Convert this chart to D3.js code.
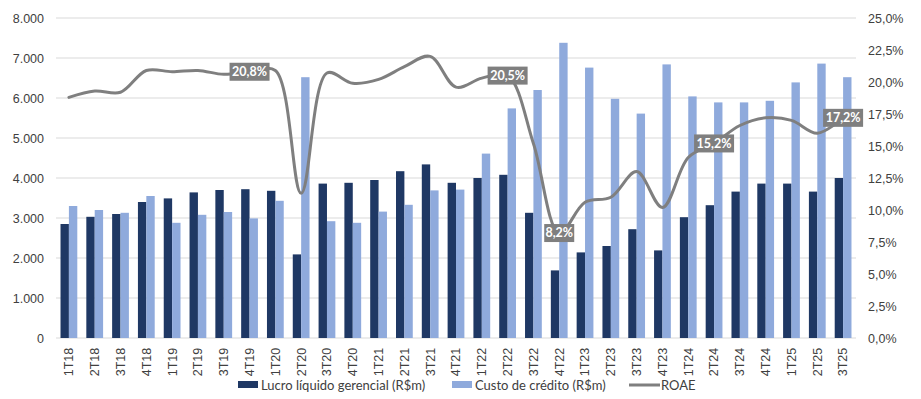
<!DOCTYPE html>
<html>
<head>
<meta charset="utf-8">
<script src="https://cdn.jsdelivr.net/npm/d3@7"></script>
<style>
  body { margin: 0; background: #fff; }
  svg { font-family: Lato, "Open Sans", sans-serif; }
</style>
</head>
<body>
<div id="chart"></div>
<script>
const quarters = ['1T18','2T18','3T18','4T18','1T19','2T19','3T19','4T19','1T20','2T20','3T20','4T20',
  '1T21','2T21','3T21','4T21','1T22','2T22','3T22','4T22','1T23','2T23','3T23','4T23',
  '1T24','2T24','3T24','4T24','1T25','2T25','3T25'];
const lucro = [2850,3030,3100,3400,3490,3640,3700,3720,3680,2090,3860,3880,
  3950,4170,4340,3880,4000,4080,3130,1690,2140,2300,2720,2190,
  3020,3320,3660,3860,3860,3660,4000];
const custo = [3300,3200,3130,3550,2880,3080,3150,2990,3430,6520,2920,2880,
  3160,3330,3690,3710,4610,5740,6200,7380,6760,5980,5610,6840,
  6040,5890,5890,5930,6390,6860,6520];
const roae = [18.8,19.3,19.2,20.9,20.8,20.9,20.6,20.8,20.9,11.3,20.7,19.9,
  20.2,21.2,22.0,19.6,20.3,20.5,15.2,8.2,10.6,11.0,13.0,10.2,
  14.1,15.2,16.6,17.2,17.0,16.0,17.2];
const labelled = ['4T19','2T22','4T22','2T24','3T25'];
const leftTicks = [0,1000,2000,3000,4000,5000,6000,7000,8000];
const rightTicks = [0,2.5,5,7.5,10,12.5,15,17.5,20,22.5,25];

const width = 921, height = 399;
const margin = {top: 18, right: 65, bottom: 61, left: 56};

const svg = d3.select('#chart').append('svg')
  .attr('width', width)
  .attr('height', height);

const x = d3.scaleBand().domain(quarters)
  .range([margin.left, width - margin.right]).paddingInner(0.35).paddingOuter(0.175);
const xs = d3.scaleBand().domain(['l','c']).range([0, x.bandwidth()]);
const y = d3.scaleLinear().domain([0, 8000]).range([height - margin.bottom, margin.top]);
const y2 = d3.scaleLinear().domain([0, 25]).range([height - margin.bottom, margin.top]);

const fmtL = d3.formatLocale({decimal: ',', thousands: '.', grouping: [3], currency: ['R$','']});
const fL = fmtL.format(',.0f');
const fR = d => fmtL.format('.1f')(d) + '%';

// grid
svg.append('g').selectAll('line').data(leftTicks.slice(1)).enter().append('line')
  .attr('x1', margin.left).attr('x2', width - margin.right)
  .attr('y1', d => y(d)).attr('y2', d => y(d))
  .attr('stroke', '#d9d9d9').attr('stroke-width', 1);

// axes
const gl = svg.append('g').attr('transform', `translate(${margin.left - 9},0)`)
  .call(d3.axisLeft(y).tickValues(leftTicks).tickFormat(fL).tickSize(0));
const gr = svg.append('g').attr('transform', `translate(${width - margin.right + 9},0)`)
  .call(d3.axisRight(y2).tickValues(rightTicks).tickFormat(fR).tickSize(0));
const gx = svg.append('g').attr('transform', `translate(0,${height - margin.bottom + 4})`)
  .call(d3.axisBottom(x).tickSize(0));
[gl, gr, gx].forEach(g => {
  g.select('.domain').remove();
  g.selectAll('text').attr('fill', '#404040').style('font-size', '12.5px');
});
gx.selectAll('text')
  .attr('transform', 'rotate(-90)')
  .attr('text-anchor', 'end')
  .attr('dx', '-0.3em').attr('dy', '0.35em')
  .attr('y', 0).attr('x', -2);

// baseline
svg.append('line')
  .attr('x1', margin.left).attr('x2', width - margin.right)
  .attr('y1', y(0)).attr('y2', y(0)).attr('stroke', '#d9d9d9');

// bars
const groups = svg.append('g').selectAll('g').data(quarters).enter().append('g')
  .attr('transform', d => `translate(${x(d)},0)`);
groups.append('rect')
  .attr('x', xs('l')).attr('width', xs.bandwidth())
  .attr('y', (d, i) => y(lucro[i])).attr('height', (d, i) => y(0) - y(lucro[i]))
  .attr('fill', '#1f3864');
groups.append('rect')
  .attr('x', xs('c')).attr('width', xs.bandwidth())
  .attr('y', (d, i) => y(custo[i])).attr('height', (d, i) => y(0) - y(custo[i]))
  .attr('fill', '#8faadc');

// line
const cx = d => x(d) + x.bandwidth() / 2;
const line = d3.line()
  .x((d, i) => cx(quarters[i]))
  .y(d => y2(d))
  .curve(d3.curveCatmullRom.alpha(0.5));
svg.append('path').datum(roae)
  .attr('d', line)
  .attr('fill', 'none')
  .attr('stroke', '#7f7f7f')
  .attr('stroke-width', 3)
  .attr('stroke-linecap', 'round');

// data labels
const lab = svg.append('g').selectAll('g').data(labelled).enter().append('g')
  .attr('transform', d => `translate(${cx(d)},${y2(roae[quarters.indexOf(d)])})`);
lab.append('rect')
  .attr('x', d => d === '4T22' ? -15 : -20).attr('y', -9)
  .attr('width', d => d === '4T22' ? 30 : 40).attr('height', 18)
  .attr('fill', '#7f7f7f');
lab.append('text')
  .attr('text-anchor', 'middle').attr('dy', '0.35em')
  .attr('fill', '#fff').style('font-weight', 'bold').style('font-size', '12.5px')
  .text(d => fR(roae[quarters.indexOf(d)]));

// legend
const leg = svg.append('g').attr('transform', 'translate(0,385)');
const items = [
  {name: 'Lucro líquido gerencial (R$m)', color: '#1f3864', type: 'rect', x: 238},
  {name: 'Custo de crédito (R$m)', color: '#8faadc', type: 'rect', x: 452},
  {name: 'ROAE', color: '#7f7f7f', type: 'line', x: 629}
];
items.forEach(it => {
  if (it.type === 'rect') {
    leg.append('rect').attr('x', it.x).attr('y', -4).attr('width', 20).attr('height', 7).attr('fill', it.color);
  } else {
    leg.append('line').attr('x1', it.x).attr('x2', it.x + 31).attr('y1', 0).attr('y2', 0)
      .attr('stroke', it.color).attr('stroke-width', 3);
  }
  leg.append('text').attr('x', it.x + (it.type === 'rect' ? 23 : 32)).attr('dy', '0.35em')
    .attr('fill', '#404040').style('font-size', '13px').text(it.name);
});
</script>
</body>
</html>
